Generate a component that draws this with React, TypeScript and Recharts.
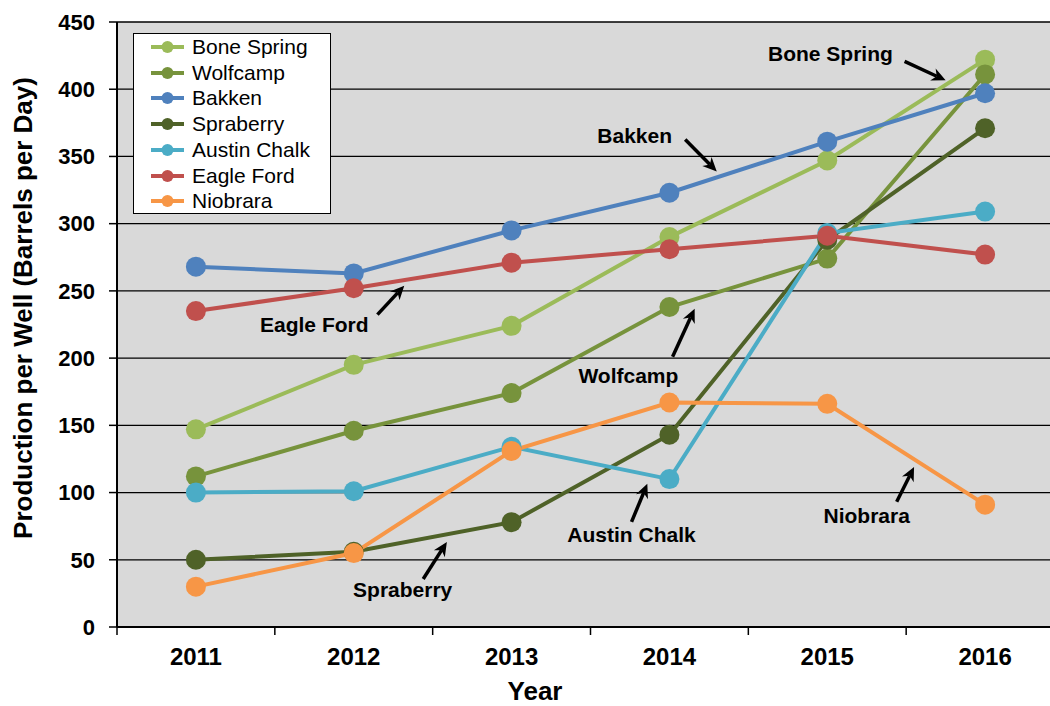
import {
  LineChart, Line, XAxis, YAxis, CartesianGrid, ReferenceLine, ReferenceDot,
} from "recharts";

const FONT = '"Liberation Sans", Arial, sans-serif';

const years = [2011, 2012, 2013, 2014, 2015, 2016];
const yTicks = [0, 50, 100, 150, 200, 250, 300, 350, 400, 450];

const boneSpring = [147, 195, 224, 290, 347, 422];
const wolfcamp = [112, 146, 174, 238, 274, 411];
const bakken = [268, 263, 295, 323, 361, 397];
const spraberry = [50, 56, 78, 143, 288, 371];
const austinChalk = [100, 101, 134, 110, 293, 309];
const eagleFord = [235, 252, 271, 281, 291, 277];
const niobrara = [30, 55, 131, 167, 166, 91];

const series = [
  { key: "boneSpring", name: "Bone Spring", color: "#9BBB59", values: boneSpring },
  { key: "wolfcamp", name: "Wolfcamp", color: "#77933C", values: wolfcamp },
  { key: "bakken", name: "Bakken", color: "#4F81BD", values: bakken },
  { key: "spraberry", name: "Spraberry", color: "#4F6228", values: spraberry },
  { key: "austinChalk", name: "Austin Chalk", color: "#4BACC6", values: austinChalk },
  { key: "eagleFord", name: "Eagle Ford", color: "#C0504D", values: eagleFord },
  { key: "niobrara", name: "Niobrara", color: "#F79646", values: niobrara },
];

// callouts in data units: label position, arrow start, arrow tip
const callouts = [
  { text: "Bone Spring", x: 2015.02, y: 426.5, x1: 2015.49, y1: 420.7, x2: 2015.75, y2: 406.6 },
  { text: "Bakken", x: 2013.78, y: 365.5, x1: 2014.1, y1: 362.6, x2: 2014.3, y2: 338.8 },
  { text: "Eagle Ford", x: 2011.75, y: 225, x1: 2012.15, y1: 232.3, x2: 2012.32, y2: 253.9 },
  { text: "Wolfcamp", x: 2013.74, y: 187, x1: 2014.02, y1: 201, x2: 2014.16, y2: 236.8 },
  { text: "Austin Chalk", x: 2013.76, y: 68.5, x1: 2013.76, y1: 78.2, x2: 2013.86, y2: 106.5 },
  { text: "Niobrara", x: 2015.25, y: 82.7, x1: 2015.44, y1: 93.1, x2: 2015.55, y2: 119.1 },
  { text: "Spraberry", x: 2012.31, y: 27.6, x1: 2012.44, y1: 35.7, x2: 2012.59, y2: 63.3 },
];

const data = years.map((year, i) => {
  const row: Record<string, number> = { year };
  series.forEach((s) => { row[s.key] = s.values[i]; });
  return row;
});

const WIDTH = 1080;
const HEIGHT = 706;
const LEFT = 117;
const RIGHT_MARGIN = 16;
const HALF_BAND = (WIDTH - RIGHT_MARGIN - LEFT) / years.length / 2;

function XTick({ x, y, payload }: { x: number; y: number; payload: { value: number } }) {
  return (
    <g>
      <line x1={x - HALF_BAND} y1={y} x2={x - HALF_BAND} y2={y + 8} stroke="#000" strokeWidth={1.5} />
      <text x={x} y={y + 38} textAnchor="middle" fontFamily={FONT} fontWeight="bold" fontSize={24} fill="#000">
        {payload.value}
      </text>
    </g>
  );
}

function Arrow(props: { x1: number; y1: number; x2: number; y2: number }) {
  const { x1, y1, x2, y2 } = props;
  const ang = Math.atan2(y2 - y1, x2 - x1);
  const len = 14;
  const w = 6.5;
  const bx = x2 - len * Math.cos(ang);
  const by = y2 - len * Math.sin(ang);
  const nx = -Math.sin(ang);
  const ny = Math.cos(ang);
  const notchX = x2 - len * 0.7 * Math.cos(ang);
  const notchY = y2 - len * 0.7 * Math.sin(ang);
  return (
    <g>
      <line x1={x1} y1={y1} x2={notchX} y2={notchY} stroke="#000" strokeWidth={3.5} />
      <polygon
        points={`${x2},${y2} ${bx + nx * w},${by + ny * w} ${notchX},${notchY} ${bx - nx * w},${by - ny * w}`}
        fill="#000"
      />
    </g>
  );
}

function Legend() {
  return (
    <div
      style={{
        position: "absolute", left: 133, top: 33, width: 196, height: 179,
        border: "1px solid #000", background: "#fff", fontFamily: FONT,
      }}
    >
      {series.map((s, i) => (
        <div key={s.key} style={{ position: "absolute", left: 0, top: 1 + i * 25.7, height: 24, display: "flex", alignItems: "center" }}>
          <svg width={58} height={24} style={{ display: "block" }}>
            <line x1={17} y1={12} x2={50} y2={12} stroke={s.color} strokeWidth={4} />
            <circle cx={33.5} cy={12} r={6} fill={s.color} />
          </svg>
          <span style={{ fontSize: 21, color: "#000", whiteSpace: "nowrap" }}>{s.name}</span>
        </div>
      ))}
    </div>
  );
}

export default function App() {
  return (
    <div style={{ position: "absolute", left: 0, top: 0, width: 1050, height: 706, overflow: "hidden", background: "#fff" }}>
      <LineChart width={WIDTH} height={HEIGHT} data={data} margin={{ top: 22, right: RIGHT_MARGIN, bottom: 0, left: 0 }}>
        <CartesianGrid vertical={false} stroke="#000" strokeWidth={1.3} fill="#d9d9d9" fillOpacity={1} />
        <XAxis
          dataKey="year"
          type="number"
          domain={[2010.5, 2016.5]}
          ticks={years}
          interval={0}
          height={79}
          tickLine={false}
          tickSize={0}
          tickMargin={0}
          axisLine={{ stroke: "#000", strokeWidth: 2 }}
          tick={(p: any) => <XTick {...p} />}
          label={{
            content: ({ viewBox }: any) => (
              <text x={535} y={viewBox.y + 73} textAnchor="middle" fontFamily={FONT} fontWeight="bold" fontSize={26} fill="#000">
                Year
              </text>
            ),
          }}
        />
        <YAxis
          type="number"
          domain={[0, 450]}
          ticks={yTicks}
          interval={0}
          width={LEFT}
          tickSize={8}
          tickMargin={14}
          axisLine={{ stroke: "#000", strokeWidth: 2 }}
          tickLine={{ stroke: "#000", strokeWidth: 1.5 }}
          tick={{ fontFamily: FONT, fontWeight: "bold", fontSize: 22, fill: "#000" }}
          label={{
            content: () => (
              <text
                x={0}
                y={0}
                transform="translate(32, 308) rotate(-90)"
                textAnchor="middle"
                fontFamily={FONT}
                fontWeight="bold"
                fontSize={26}
                fill="#000"
              >
                Production per Well (Barrels per Day)
              </text>
            ),
          }}
        />
        {series.map((s) => (
          <Line
            key={s.key}
            dataKey={s.key}
            name={s.name}
            stroke={s.color}
            strokeWidth={4}
            dot={{ r: 10, fill: s.color, stroke: s.color, strokeWidth: 0 }}
            activeDot={false}
            isAnimationActive={false}
          />
        ))}
        {callouts.map((c) => (
          <ReferenceLine
            key={c.text + "-arrow"}
            segment={[{ x: c.x1, y: c.y1 }, { x: c.x2, y: c.y2 }]}
            shape={(p: any) => <Arrow x1={p.x1} y1={p.y1} x2={p.x2} y2={p.y2} />}
          />
        ))}
        {callouts.map((c) => (
          <ReferenceDot
            key={c.text}
            x={c.x}
            y={c.y}
            r={1}
            shape={(p: any) => (
              <text
                x={p.cx}
                y={p.cy}
                textAnchor="middle"
                dominantBaseline="central"
                fontFamily={FONT}
                fontWeight="bold"
                fontSize={21}
                fill="#000"
              >
                {c.text}
              </text>
            )}
          />
        ))}
      </LineChart>
      <Legend />
    </div>
  );
}
